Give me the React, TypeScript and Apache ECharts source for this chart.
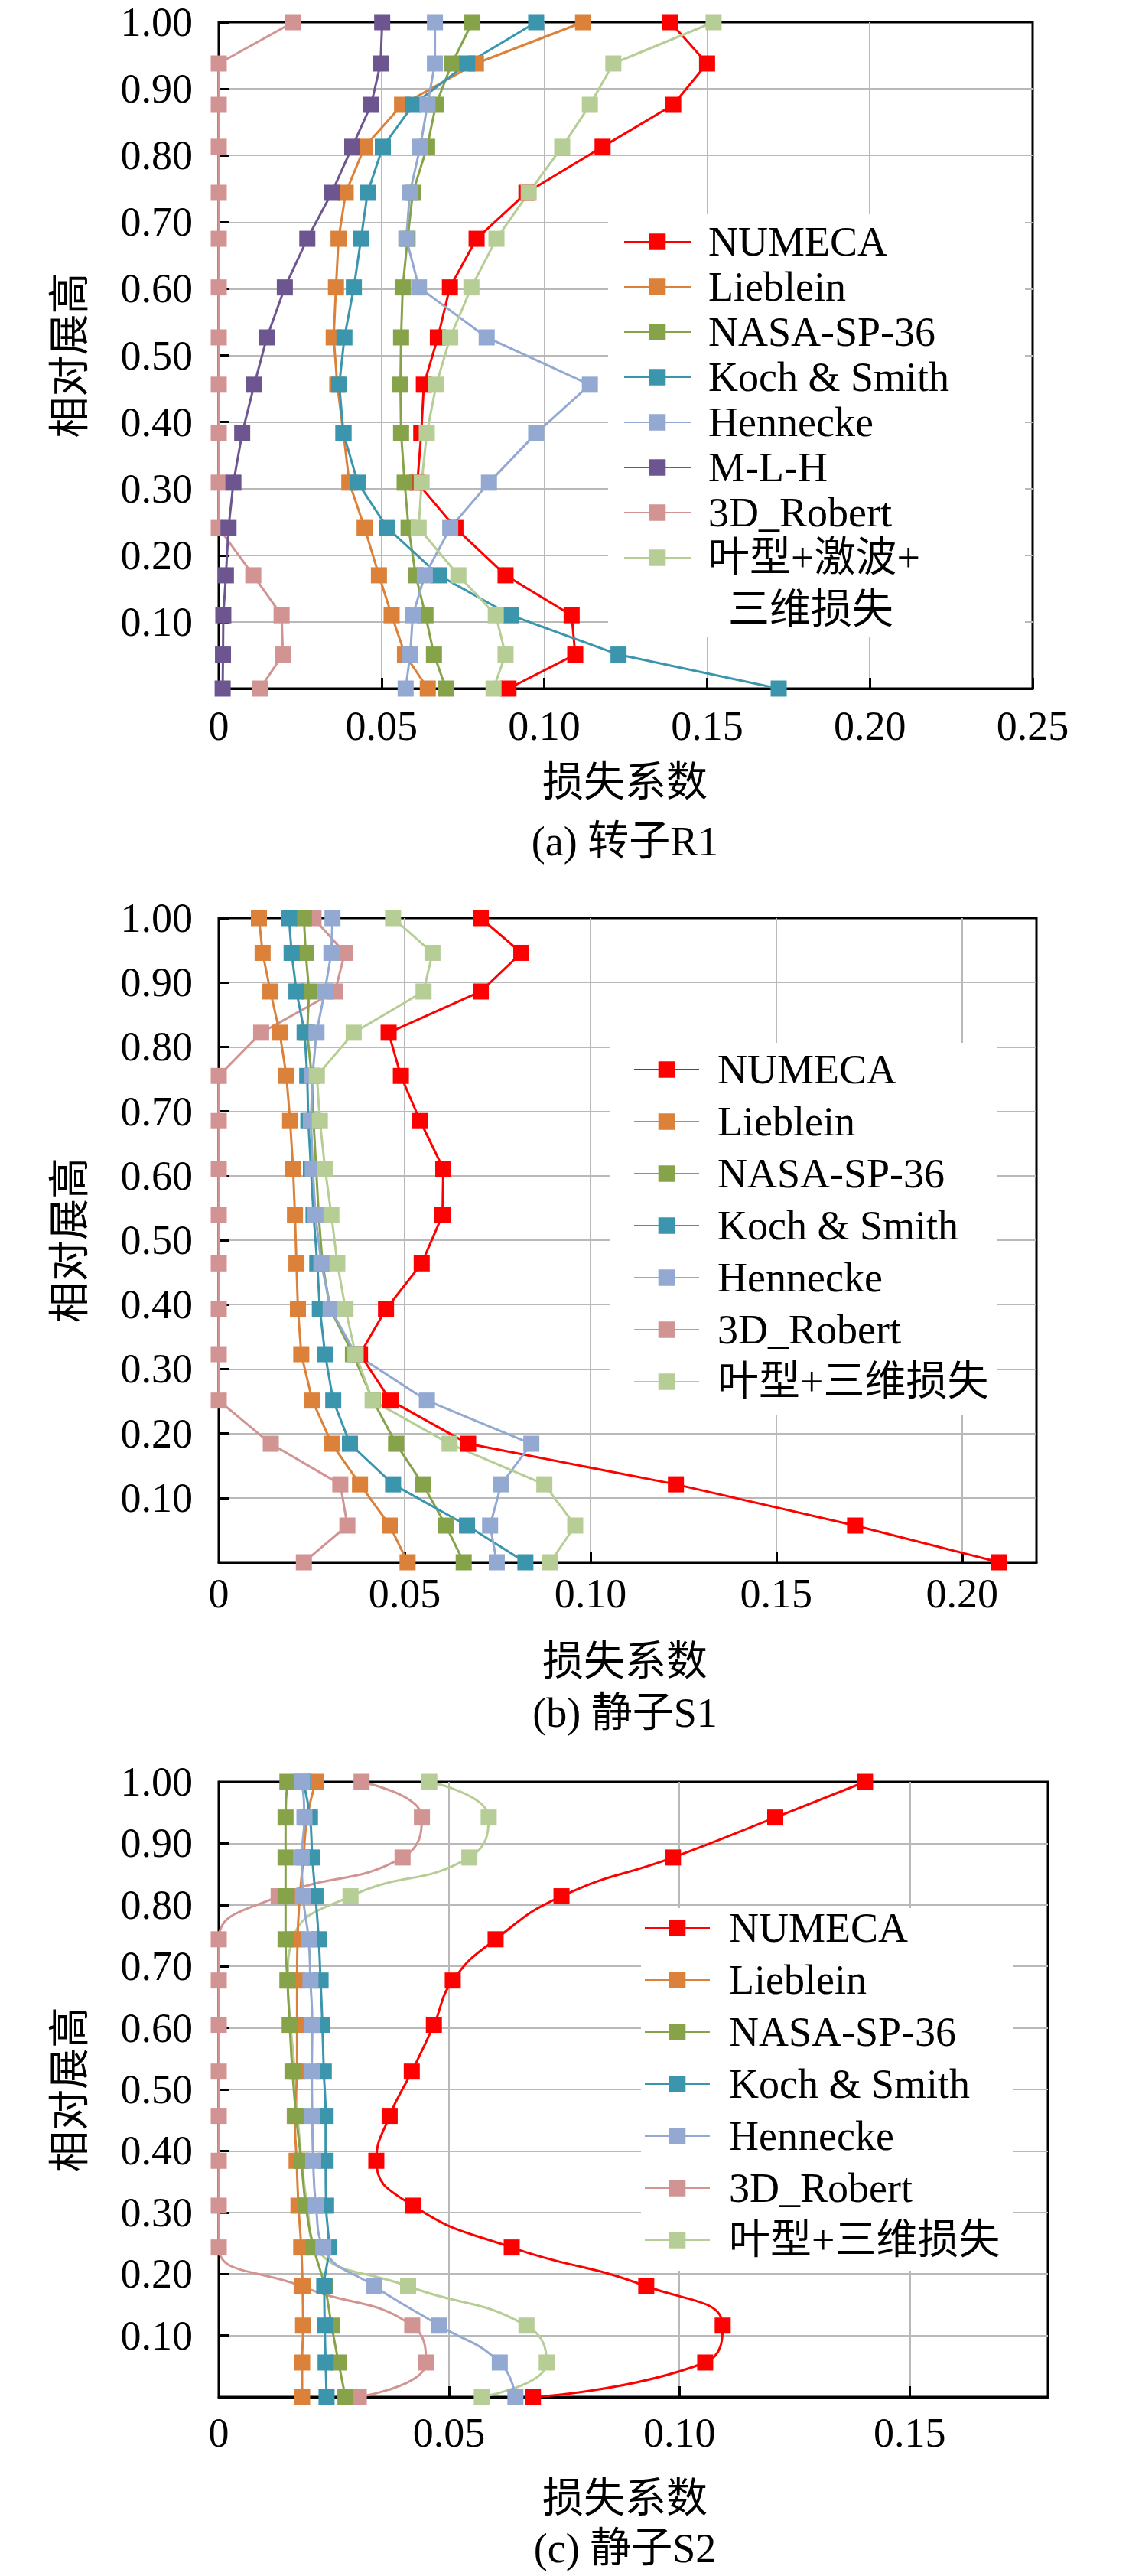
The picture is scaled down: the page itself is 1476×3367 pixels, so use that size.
import React, { useEffect, useRef } from 'react';
import * as echarts from 'echarts';

const FONT = '"Liberation Serif", "Noto Sans CJK SC", serif';

// relative span of the stations (hub 0 -> tip 1), one list per blade row
const spanR1 = [0, 0.051, 0.11, 0.17, 0.241, 0.309, 0.383, 0.456, 0.527, 0.602, 0.675, 0.744, 0.813, 0.876, 0.938, 1.0];
const spanS1 = [0, 0.057, 0.121, 0.184, 0.251, 0.323, 0.393, 0.464, 0.539, 0.611, 0.685, 0.755, 0.822, 0.886, 0.946, 1.0];
const spanS2 = [0, 0.056, 0.116, 0.18, 0.243, 0.311, 0.384, 0.457, 0.529, 0.605, 0.677, 0.744, 0.814, 0.877, 0.942, 1.0];

const namesR1 = ['NUMECA', 'Lieblein', 'NASA-SP-36', 'Koch & Smith', 'Hennecke', 'M-L-H', '3D_Robert', '叶型+激波+三维损失'];
const namesS = ['NUMECA', 'Lieblein', 'NASA-SP-36', 'Koch & Smith', 'Hennecke', '3D_Robert', '叶型+三维损失'];

// (a) 转子R1 - loss coefficient, hub -> tip
const r1Numeca = [0.089, 0.1095, 0.1084, 0.0881, 0.0727, 0.061, 0.0622, 0.063, 0.0673, 0.071, 0.0792, 0.0945, 0.1179, 0.1396, 0.15, 0.1387];
const r1Lieblein = [0.0642, 0.0572, 0.0531, 0.0492, 0.0448, 0.0401, 0.0383, 0.0364, 0.0353, 0.036, 0.0368, 0.039, 0.0448, 0.0563, 0.079, 0.1119];
const r1Nasa = [0.0698, 0.0661, 0.0635, 0.0605, 0.0583, 0.0571, 0.056, 0.0558, 0.056, 0.0565, 0.058, 0.0596, 0.064, 0.0667, 0.0716, 0.0779];
const r1Koch = [0.172, 0.1228, 0.0897, 0.0676, 0.0518, 0.0427, 0.0383, 0.037, 0.0386, 0.0415, 0.0437, 0.0457, 0.0504, 0.0597, 0.0763, 0.0975];
const r1Hennecke = [0.0574, 0.0588, 0.0596, 0.0633, 0.0711, 0.083, 0.0975, 0.114, 0.0823, 0.0615, 0.0576, 0.0587, 0.0619, 0.0641, 0.0664, 0.0664];
const r1Mlh = [0.0012, 0.0013, 0.0014, 0.0022, 0.003, 0.0045, 0.0072, 0.0109, 0.0148, 0.0203, 0.0272, 0.0347, 0.041, 0.0468, 0.0497, 0.0502];
const r1Robert = [0.0127, 0.0197, 0.0193, 0.0106, 0, 0, 0, 0, 0, 0, 0, 0, 0, 0, 0, 0.0229];
const r1Profile = [0.0844, 0.0881, 0.0851, 0.0736, 0.0614, 0.0623, 0.0639, 0.0668, 0.0711, 0.0776, 0.0853, 0.0952, 0.1055, 0.114, 0.1212, 0.152];

// (b) 静子S1
const s1Numeca = [0.21, 0.1712, 0.123, 0.0671, 0.0462, 0.038, 0.045, 0.0546, 0.0602, 0.0604, 0.0542, 0.049, 0.0457, 0.0705, 0.0814, 0.0705];
const s1Lieblein = [0.0508, 0.046, 0.038, 0.0304, 0.0252, 0.0222, 0.0213, 0.0209, 0.0205, 0.02, 0.0192, 0.0182, 0.0164, 0.0139, 0.0118, 0.0108];
const s1Nasa = [0.0659, 0.0611, 0.0549, 0.0477, 0.0415, 0.0361, 0.03, 0.0279, 0.0269, 0.0262, 0.0255, 0.025, 0.0238, 0.0243, 0.0234, 0.0229];
const s1Koch = [0.0825, 0.0668, 0.0469, 0.0353, 0.0308, 0.0286, 0.0272, 0.0265, 0.0255, 0.0248, 0.0241, 0.0238, 0.0231, 0.0209, 0.0196, 0.0189];
const s1Hennecke = [0.0748, 0.073, 0.076, 0.0841, 0.056, 0.0368, 0.0301, 0.0276, 0.026, 0.0253, 0.0248, 0.0252, 0.0263, 0.0285, 0.0303, 0.0306];
const s1Robert = [0.0229, 0.0346, 0.0327, 0.014, 0, 0, 0, 0, 0, 0, 0, 0, 0.0114, 0.0313, 0.0339, 0.0255];
const s1Profile = [0.0892, 0.0959, 0.0876, 0.0621, 0.0414, 0.0368, 0.0341, 0.0319, 0.0303, 0.0286, 0.0272, 0.0264, 0.0363, 0.0551, 0.0575, 0.0469];

// (c) 静子S2
const s2Numeca = [0.0682, 0.1056, 0.1094, 0.0928, 0.0636, 0.0422, 0.0342, 0.0371, 0.0419, 0.0467, 0.0508, 0.0601, 0.0744, 0.0986, 0.1208, 0.1403];
const s2Lieblein = [0.0181, 0.0181, 0.0183, 0.0182, 0.0179, 0.0173, 0.0169, 0.0165, 0.017, 0.017, 0.017, 0.0171, 0.0176, 0.0184, 0.0192, 0.0211];
const s2Nasa = [0.0275, 0.026, 0.0245, 0.023, 0.0206, 0.0189, 0.0179, 0.0168, 0.016, 0.0154, 0.0149, 0.0145, 0.0145, 0.0145, 0.0145, 0.0149];
const s2Koch = [0.0234, 0.0232, 0.023, 0.0229, 0.0239, 0.0233, 0.0232, 0.0232, 0.0228, 0.0225, 0.0221, 0.0217, 0.021, 0.0203, 0.0198, 0.0183];
const s2Hennecke = [0.0644, 0.061, 0.0479, 0.0338, 0.0227, 0.0211, 0.0205, 0.0203, 0.0202, 0.0203, 0.0199, 0.0195, 0.0183, 0.018, 0.0186, 0.0181];
const s2Robert = [0.0304, 0.045, 0.042, 0.018, 0, 0, 0, 0, 0, 0, 0, 0, 0.013, 0.0399, 0.0441, 0.031];
const s2Profile = [0.0571, 0.0712, 0.0668, 0.0411, 0.021, 0.0192, 0.018, 0.0171, 0.0165, 0.0156, 0.015, 0.016, 0.0286, 0.0544, 0.0586, 0.0457];

const COLORS: Record<string, string> = {
  NUMECA: '#ff0000',
  Lieblein: '#db8139',
  'NASA-SP-36': '#86a34a',
  'Koch & Smith': '#3b95ad',
  Hennecke: '#93a9d1',
  'M-L-H': '#6d5690',
  '3D_Robert': '#d29393',
  '叶型+激波+三维损失': '#b7cd96',
  '叶型+三维损失': '#b7cd96',
};

const makeSeries = (name: string, xs: number[], spans: number[], grid: number, smooth: boolean, z: number) => ({
  type: 'line',
  name,
  xAxisIndex: grid,
  yAxisIndex: grid,
  data: xs.map((v, i) => [v, spans[i]]),
  symbol: 'rect',
  symbolSize: 21,
  smooth: smooth ? 0.5 : false,
  clip: false,
  z,
  lineStyle: { color: COLORS[name], width: 3 },
  itemStyle: { color: COLORS[name] },
  emphasis: { disabled: true },
});

const textEl = (text: string, x: number, y: number, align = 'center') => ({
  type: 'text',
  x,
  y,
  z: 6,
  style: { text, fill: '#000', fontSize: 54, fontFamily: FONT, align, verticalAlign: 'middle' },
});

const LossChart: React.FC = () => {
  const chartRef = useRef<HTMLDivElement>(null);

  useEffect(() => {
    if (!chartRef.current) return;
    const myChart = echarts.init(chartRef.current, undefined, { renderer: 'svg' });

    const grids = [
      { left: 286, top: 29, width: 1064, height: 871 },
      { left: 286, top: 1200, width: 1069, height: 842 },
      { left: 286, top: 2329, width: 1084, height: 804 },
    ];
    const xMax = [0.25, 0.22, 0.18];
    const xMargin = [22, 14, 20];

    const xAxes = grids.map((_, i) => ({
      type: 'value',
      gridIndex: i,
      min: 0,
      max: xMax[i],
      interval: 0.05,
      axisLine: { show: true, onZero: false, lineStyle: { color: '#000', width: 3 } },
      axisTick: { show: true, inside: true, length: 14, lineStyle: { color: '#000', width: 3 } },
      axisLabel: {
        margin: xMargin[i],
        fontSize: 54,
        fontFamily: FONT,
        color: '#000',
        showMaxLabel: i === 0,
        formatter: (v: number) => (v === 0 ? '0' : v.toFixed(2)),
      },
      splitLine: { show: true, showMinLine: false, showMaxLine: false, lineStyle: { color: '#b9b9b9', width: 2 } },
    }));

    const yAxes = grids.map((_, i) => ({
      type: 'value',
      gridIndex: i,
      min: 0,
      max: 1,
      interval: 0.1,
      name: '相对展高',
      nameLocation: 'middle',
      nameGap: 167,
      nameTextStyle: { fontSize: 54, fontFamily: FONT, color: '#000' },
      axisLine: { show: true, onZero: false, lineStyle: { color: '#000', width: 3 } },
      axisTick: { show: true, inside: true, length: 14, lineStyle: { color: '#000', width: 3 } },
      axisLabel: {
        margin: 34,
        fontSize: 54,
        fontFamily: FONT,
        color: '#000',
        formatter: (v: number) => (v === 0 ? '' : v.toFixed(2)),
      },
      splitLine: { show: true, showMinLine: false, showMaxLine: false, lineStyle: { color: '#b9b9b9', width: 2 } },
    }));

    const r1Data = [r1Numeca, r1Lieblein, r1Nasa, r1Koch, r1Hennecke, r1Mlh, r1Robert, r1Profile];
    const s1Data = [s1Numeca, s1Lieblein, s1Nasa, s1Koch, s1Hennecke, s1Robert, s1Profile];
    const s2Data = [s2Numeca, s2Lieblein, s2Nasa, s2Koch, s2Hennecke, s2Robert, s2Profile];

    const series = [
      ...namesR1.map((n, k) => makeSeries(n, r1Data[k], spanR1, 0, false, n === '3D_Robert' ? 1 : 2)),
      ...namesS.map((n, k) => makeSeries(n, s1Data[k], spanS1, 1, false, n === '3D_Robert' ? 1 : 2)),
      ...namesS.map((n, k) => makeSeries(n, s2Data[k], spanS2, 2, true, n === '3D_Robert' || n === '叶型+三维损失' ? 1 : 2)),
    ];

    const legendBase = {
      orient: 'vertical',
      padding: 0,
      itemHeight: 27,
      selectedMode: false,
      backgroundColor: 'transparent',
    };

    const option: any = {
      animation: false,
      textStyle: { fontFamily: FONT },
      grid: grids.map((g) => ({ ...g, show: true, borderColor: '#000', borderWidth: 3, backgroundColor: 'transparent' })),
      xAxis: xAxes,
      yAxis: yAxes,
      legend: [
        {
          ...legendBase,
          left: 815,
          top: 289,
          itemWidth: 87,
          itemGap: 5,
          data: namesR1,
          formatter: (n: string) => (n === '叶型+激波+三维损失' ? '叶型+激波+' : n),
          textStyle: { fontSize: 54, fontFamily: FONT, color: '#000', padding: [0, 0, 0, 18] },
        },
        {
          ...legendBase,
          left: 828,
          top: 1371,
          itemWidth: 85,
          itemGap: 14,
          data: namesS,
          textStyle: { fontSize: 54, fontFamily: FONT, color: '#000', padding: [0, 0, 0, 19] },
        },
        {
          ...legendBase,
          left: 842,
          top: 2493,
          itemWidth: 85,
          itemGap: 14,
          data: namesS,
          textStyle: { fontSize: 54, fontFamily: FONT, color: '#000', padding: [0, 0, 0, 20] },
        },
      ],
      graphic: [
        { type: 'rect', z: 3, shape: { x: 795, y: 280, width: 545, height: 552 }, style: { fill: '#fff' } },
        { type: 'rect', z: 3, shape: { x: 798, y: 1363, width: 506, height: 487 }, style: { fill: '#fff' } },
        { type: 'rect', z: 3, shape: { x: 838, y: 2494, width: 487, height: 474 }, style: { fill: '#fff' } },
        textEl('三维损失', 952, 797, 'left'),
        textEl('损失系数', 817, 1023),
        textEl('(a) 转子R1', 817, 1100),
        textEl('损失系数', 817, 2172),
        textEl('(b) 静子S1', 817, 2239),
        textEl('损失系数', 817, 3266),
        textEl('(c) 静子S2', 817, 3331),
      ],
      series,
    };

    myChart.setOption(option);

    return () => {
      myChart.dispose();
    };
  }, []);

  return <div ref={chartRef} style={{ position: 'absolute', left: 0, top: 0, width: 1476, height: 3367 }} />;
};

export default function App() {
  return <LossChart />;
}
